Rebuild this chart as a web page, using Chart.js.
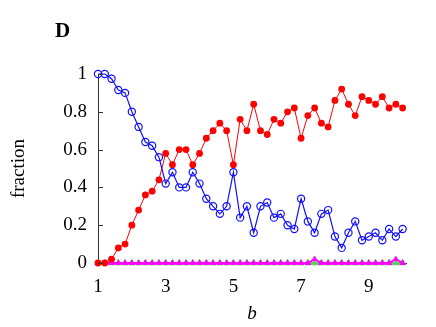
<!DOCTYPE html>
<html>
<head>
<meta charset="utf-8">
<script src="https://cdn.jsdelivr.net/npm/chart.js@4/dist/chart.umd.min.js"></script>
<style>
  body { margin: 0; background: #fff; }
  #wrap { width: 436px; height: 327px; }
</style>
</head>
<body>
<div id="wrap"><canvas id="fractionChart" width="436" height="327"></canvas></div>
<script>
/* ------------------------------- Data ------------------------------- */
const bValues = [1, 1.2, 1.4, 1.6, 1.8, 2, 2.2, 2.4, 2.6, 2.8, 3, 3.2, 3.4, 3.6, 3.8, 4, 4.2, 4.4, 4.6, 4.8,
    5, 5.2, 5.4, 5.6, 5.8, 6, 6.2, 6.4, 6.6, 6.8, 7, 7.2, 7.4, 7.6, 7.8, 8, 8.2, 8.4, 8.6, 8.8,
    9, 9.2, 9.4, 9.6, 9.8, 10];

const blueFraction = [1, 1, 0.975, 0.915, 0.9, 0.8, 0.72, 0.64, 0.62, 0.56, 0.42, 0.48, 0.4, 0.4, 0.48, 0.42,
    0.34, 0.3, 0.26, 0.3, 0.48, 0.24, 0.3, 0.16, 0.3, 0.32, 0.24, 0.26, 0.2, 0.18, 0.34, 0.22, 0.16,
    0.26, 0.28, 0.14, 0.08, 0.16, 0.22, 0.12, 0.14, 0.16, 0.12, 0.18, 0.14, 0.18];

const redFraction = [0, 0, 0.02, 0.08, 0.1, 0.2, 0.28, 0.36, 0.38, 0.44, 0.58, 0.52, 0.6, 0.6, 0.52, 0.58,
    0.66, 0.7, 0.74, 0.7, 0.52, 0.76, 0.7, 0.84, 0.7, 0.68, 0.76, 0.74, 0.8, 0.82, 0.66, 0.78, 0.82,
    0.74, 0.72, 0.86, 0.92, 0.84, 0.78, 0.88, 0.86, 0.84, 0.88, 0.82, 0.84, 0.82];

const magentaFraction = [0, 0, 0, 0, 0, 0, 0, 0, 0, 0, 0, 0, 0, 0, 0, 0, 0, 0, 0, 0, 0, 0, 0, 0, 0, 0, 0, 0,
    0, 0, 0, 0, 0.02, 0, 0, 0, 0, 0, 0, 0, 0, 0, 0, 0, 0.02, 0];

const greenFraction = [0, 0, 0, 0, 0, 0, 0, 0, 0, 0, 0, 0, 0, 0, 0, 0, 0, 0, 0, 0, 0, 0, 0, 0, 0, 0, 0, 0,
    0, 0, 0, 0, 0, 0, 0, 0, 0, 0, 0, 0, 0, 0, 0, 0, 0, 0];

const xTicks = [1, 3, 5, 7, 9];
const yTicks = [0, 0.2, 0.4, 0.6, 0.8, 1];

/* ----------------------------- Helpers ------------------------------ */
const toPoints = (ys) => bValues.map((x, i) => ({ x: x, y: ys[i] }));
const serif = 'Liberation Serif, Times New Roman, serif';

// inward tick marks on the y axis and the panel letter
const panelDecor = {
    id: 'panelDecor',
    afterDraw(chart) {
        const ctx = chart.ctx;
        const area = chart.chartArea;
        const yScale = chart.scales.y;
        ctx.save();
        ctx.strokeStyle = '#333';
        ctx.lineWidth = 1;
        yTicks.forEach(v => {
            const py = Math.round(yScale.getPixelForValue(v)) + 0.5;
            ctx.beginPath();
            ctx.moveTo(area.left, py);
            ctx.lineTo(area.left + 5, py);
            ctx.stroke();
        });
        ctx.fillStyle = '#000';
        ctx.font = 'bold 21px ' + serif;
        ctx.textBaseline = 'alphabetic';
        ctx.fillText('D', 55, 37);
        ctx.restore();
    }
};

/* ------------------------------ Chart ------------------------------- */
new Chart(document.getElementById('fractionChart'), {
    type: 'line',
    data: {
        datasets: [
            {
                data: toPoints(greenFraction),
                borderColor: 'rgb(100,200,100)',
                borderWidth: 2,
                pointStyle: 'triangle',
                pointRadius: 3.6,
                pointBackgroundColor: 'rgb(100,200,100)',
                pointBorderColor: 'rgb(100,200,100)',
                pointBorderWidth: 1,
                clip: false,
                order: 4
            },
            {
                data: toPoints(magentaFraction),
                borderColor: '#ff00ff',
                borderWidth: 2,
                pointStyle: 'triangle',
                pointRadius: 3.8,
                pointBackgroundColor: '#ff00ff',
                pointBorderColor: '#ff00ff',
                pointBorderWidth: 0,
                clip: false,
                order: 3
            },
            {
                data: toPoints(redFraction),
                borderColor: '#ff0000',
                borderWidth: 1,
                pointRadius: 3.4,
                pointBackgroundColor: '#ff0000',
                pointBorderColor: '#ff0000',
                pointBorderWidth: 0,
                clip: false,
                order: 2
            },
            {
                data: toPoints(blueFraction),
                borderColor: '#1010ff',
                borderWidth: 1.2,
                pointRadius: 3.6,
                pointBackgroundColor: 'rgba(0,0,0,0)',
                pointBorderColor: '#1010ff',
                pointBorderWidth: 1.2,
                clip: false,
                order: 1
            }
        ]
    },
    options: {
        responsive: false,
        animation: false,
        layout: { padding: { top: 74, right: 30, bottom: 0, left: 0 } },
        plugins: {
            legend: { display: false },
            tooltip: { enabled: false }
        },
        scales: {
            x: {
                type: 'linear',
                min: 1,
                max: 10.1,
                afterBuildTicks: (scale) => { scale.ticks = xTicks.map(v => ({ value: v })); },
                afterFit: (scale) => { scale.height = 64; },
                grid: { display: false, drawTicks: false },
                border: { display: true, color: '#333', width: 1 },
                ticks: {
                    color: '#000',
                    padding: 13,
                    maxRotation: 0,
                    font: { family: serif, size: 19 },
                    callback: (v) => String(v)
                },
                title: {
                    display: true,
                    text: 'b',
                    color: '#000',
                    padding: { top: 0, bottom: 2 },
                    font: { family: serif, size: 19, style: 'italic' }
                }
            },
            y: {
                min: 0,
                max: 1,
                afterBuildTicks: (scale) => { scale.ticks = yTicks.map(v => ({ value: v })); },
                afterFit: (scale) => { scale.width = 98; },
                grid: { display: false, drawTicks: false },
                border: { display: true, color: '#333', width: 1 },
                ticks: {
                    color: '#000',
                    padding: 11,
                    font: { family: serif, size: 19 },
                    callback: (v) => String(v)
                },
                title: {
                    display: true,
                    text: 'fraction',
                    color: '#000',
                    padding: { top: 8, bottom: 0 },
                    font: { family: serif, size: 19 }
                }
            }
        }
    },
    plugins: [panelDecor]
});
</script>
</body>
</html>
